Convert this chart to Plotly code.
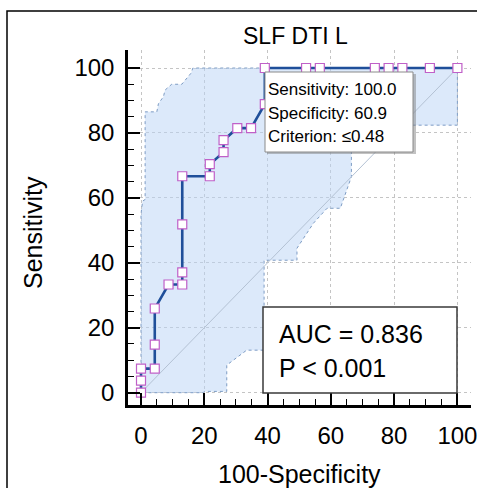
import plotly.graph_objects as go

# ROC curve: 100-Specificity (x) vs Sensitivity (y), 23 negatives / 27 positives
fpr = [0.0, 0.0, 0.0, 4.35, 4.35, 4.35, 8.70, 13.04, 13.04, 13.04, 13.04, 21.74, 21.74,
       26.09, 26.09, 30.43, 34.78, 39.13, 39.13, 52.17, 56.52, 73.91, 78.26, 82.61, 91.30, 100.0]
tpr = [0.0, 3.70, 7.41, 7.41, 14.81, 25.93, 33.33, 33.33, 37.04, 51.85, 66.67, 66.67, 70.37,
       74.07, 77.78, 81.48, 81.48, 88.89, 100.0, 100.0, 100.0, 100.0, 100.0, 100.0, 100.0, 100.0]

# 95% confidence band boundaries
upper_x = [0.0, 0.0, 0.5, 1.3, 1.3, 5.0, 5.5, 7.1, 7.6, 9.7, 12.9, 15.8, 16.4, 100.0]
upper_y = [0.0, 55.0, 59.0, 59.5, 86.5, 86.5, 89.0, 91.2, 93.2, 95.0, 95.0, 98.4, 100.0, 100.0]
lower_x = [0.0, 19.7, 20.0, 27.1, 27.1, 33.4, 38.9, 38.9, 49.3, 49.3, 54.5, 58.8, 63.0, 66.5, 66.5, 100.0, 100.0]
lower_y = [0.0, 0.0, 0.4, 0.4, 8.5, 13.1, 13.1, 40.8, 40.8, 44.5, 52.2, 56.8, 56.8, 66.5, 82.4, 82.4, 100.0]

crit_idx = 18
criterion = "\u22640.48"
auc_text = "AUC = 0.836"
p_text = "P < 0.001"

tick_vals = [0, 20, 40, 60, 80, 100]
minor_vals = list(range(0, 101, 5))

W, H = 477, 488
L, R, T, B = 128, 6, 50, 83
PW, PH = W - L - R, H - T - B


def px(x):
    return (x - L) / PW


def py(y):
    return (H - B - y) / PH


FONT = "Arial, Liberation Sans, sans-serif"

fig = go.Figure()

# confidence band polygon (translucent so the grid shows through)
band_x = upper_x + lower_x[::-1]
band_y = upper_y + lower_y[::-1]
fig.add_trace(go.Scatter(x=band_x, y=band_y, mode="lines", fill="toself",
                         fillcolor="rgba(185,212,246,0.5)",
                         line=dict(color="#7d9cc4", width=1, dash="dot"),
                         hoverinfo="skip", showlegend=False))

# chance diagonal
fig.add_trace(go.Scatter(x=[0, 100], y=[0, 100], mode="lines",
                         line=dict(color="#b4c2d4", width=1),
                         hoverinfo="skip", showlegend=False))

# ROC curve
fig.add_trace(go.Scatter(x=fpr, y=tpr, mode="lines+markers",
                         line=dict(color="#1f4f9a", width=2.6),
                         marker=dict(symbol="square", size=9, color="white",
                                     line=dict(color="#c060c8", width=1.2)),
                         showlegend=False))

axis_common = dict(
    showgrid=True, gridcolor="#c4c4c4", griddash="dot", gridwidth=1,
    zeroline=False, showline=True, linecolor="black", linewidth=2.5,
    ticks="inside", ticklen=12, tickwidth=1.5, tickcolor="black",
    tickvals=tick_vals, ticklabeloverflow="allow", automargin=False,
    tickfont=dict(family=FONT, size=24, color="black"),
    minor=dict(tickmode="array", tickvals=minor_vals, ticks="inside",
               ticklen=6, tickwidth=1.2, tickcolor="black", showgrid=False),
)

fig.update_xaxes(range=[-4.11, 104.3], ticklabelstandoff=7, **axis_common)
fig.update_yaxes(range=[-3.79, 105.55], ticklabelstandoff=6, **axis_common)

shapes = [
    # outer frame
    dict(type="rect", xref="paper", yref="paper",
         x0=px(7), x1=px(500), y0=py(11), y1=py(520),
         line=dict(color="black", width=1.5), fillcolor="rgba(0,0,0,0)"),
    # tooltip shadow + box
    dict(type="rect", xref="paper", yref="paper",
         x0=px(267), x1=px(416), y0=py(74), y1=py(154),
         line=dict(width=0), fillcolor="rgba(120,120,120,0.45)"),
    dict(type="rect", xref="paper", yref="paper",
         x0=px(265), x1=px(413), y0=py(72), y1=py(152),
         line=dict(color="#8a8a8a", width=1), fillcolor="white"),
    # AUC box
    dict(type="rect", xref="paper", yref="paper",
         x0=px(263), x1=px(457), y0=py(307), y1=py(393),
         line=dict(color="#3a3a3a", width=1.5), fillcolor="white"),
]

sens = tpr[crit_idx]
spec = 100 - fpr[crit_idx]
tip_lines = [f"Sensitivity: {sens:.1f}", f"Specificity: {spec:.1f}", f"Criterion: {criterion}"]


def label(text, x, y, size, xanchor="center", angle=0):
    return dict(text=text, x=px(x), y=py(y), xref="paper", yref="paper",
                xanchor=xanchor, yanchor="middle", textangle=angle, showarrow=False,
                font=dict(family=FONT, size=size, color="black"))


annotations = [
    label("SLF DTI L", 295, 36, 23),
    label("100-Specificity", 299, 474, 25),
    label("Sensitivity", 33, 232, 25, angle=-90),
    label(auc_text, 277, 334, 25, xanchor="left"),
    label(p_text, 277, 368, 25, xanchor="left"),
]
for i, t in enumerate(tip_lines):
    annotations.append(label(t, 266, 90 + 23 * i, 17, xanchor="left"))

fig.update_layout(
    width=W, height=H, margin=dict(l=L, r=R, t=T, b=B, autoexpand=False),
    paper_bgcolor="white", plot_bgcolor="white",
    shapes=shapes, annotations=annotations, showlegend=False,
)

fig.write_html("out.html")
